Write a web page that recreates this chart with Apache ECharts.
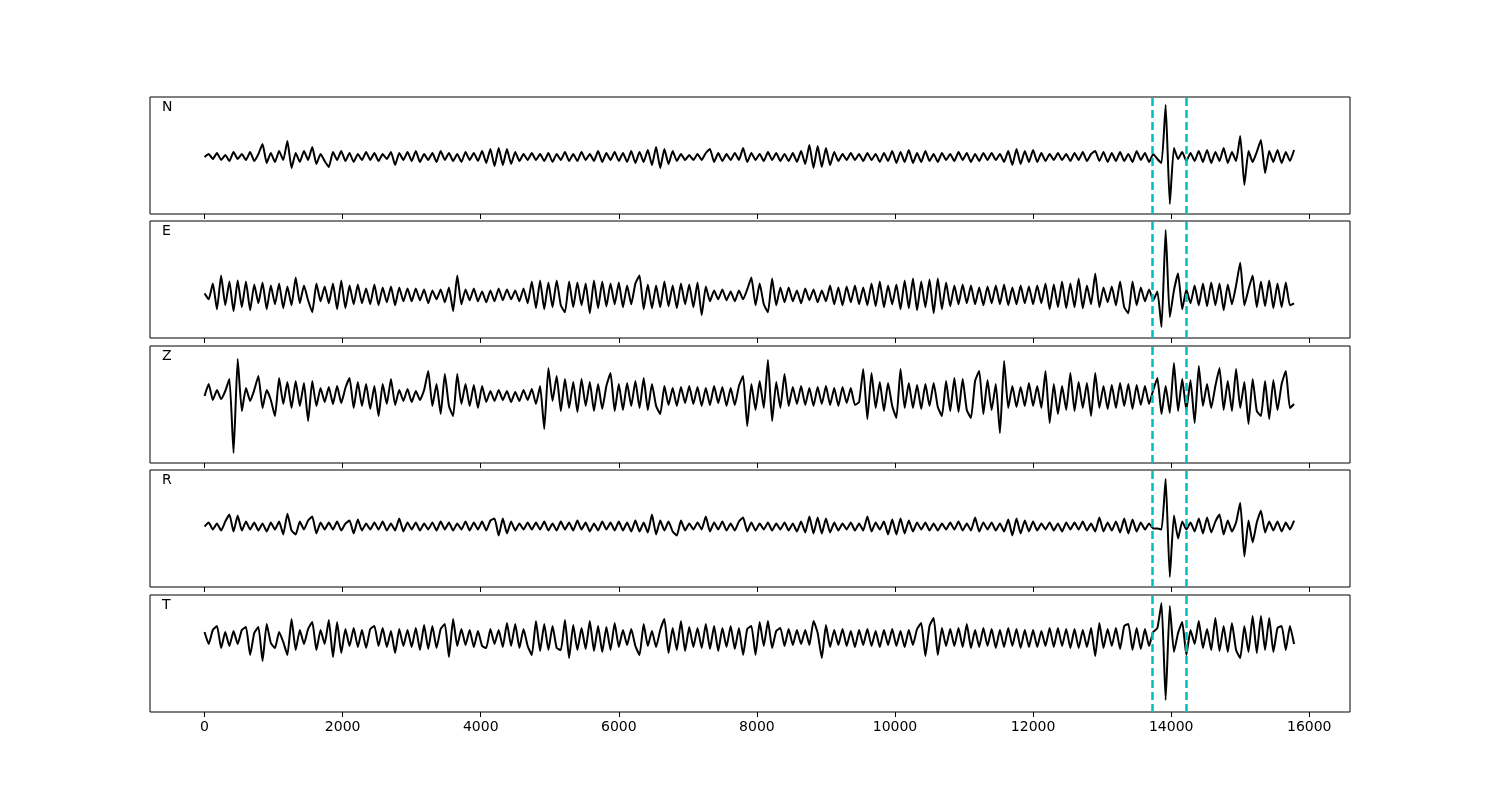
<!DOCTYPE html>
<html><head><meta charset="utf-8">
<script src="https://cdn.jsdelivr.net/npm/echarts@6/dist/echarts.min.js"></script>
<style>html,body{margin:0;padding:0;background:#fff}#c{width:1500px;height:800px}</style>
</head><body><div id="c"></div>
<script>
const channels = ['N', 'E', 'Z', 'R', 'T'];
const sampleStep = 60;               // time between stored samples
const pickTimes = [13720, 14225];    // dashed cyan markers
const xTicks = [0, 2000, 4000, 6000, 8000, 10000, 12000, 14000, 16000];
const xMin = -790, xMax = 16590;

const traceN = [
 0,3,-2,4,-3,2,-4,5,-2,3,
 -3,5,-4,3,13,-6,4,-5,6,-3,
 16,-11,4,-5,6,-3,10,-7,3,-4,
 -10,5,-3,6,-4,4,-5,3,-3,5,
 -3,4,-4,3,-2,5,-8,4,-3,5,
 -4,6,-5,3,-3,4,-5,6,-3,4,
 -4,3,-5,5,-3,4,-4,6,-6,8,
 -9,9,-8,8,-7,5,-4,3,-3,4,
 -3,3,-4,4,-5,3,-3,5,-4,3,
 -4,5,-3,3,-4,6,-5,4,-3,5,
 -4,4,-5,6,-6,5,-5,7,-8,10,
 -11,8,-7,6,-4,3,-3,2,-3,3,
 -3,4,8,-5,4,-4,3,-3,4,-3,
 9,-5,4,-3,3,-4,5,-3,4,-4,
 3,-4,4,-5,6,-7,12,-11,11,-10,
 9,-8,5,-4,3,-3,4,-3,3,-4,
 4,-3,3,-5,4,-4,6,-6,5,-5,
 7,-6,4,-5,6,-4,3,-5,4,-3,
 3,-4,5,-3,4,-5,3,-4,4,-3,
 4,-3,3,-5,6,-8,8,-7,6,-5,
 7,-5,4,-4,3,-3,4,-3,3,-4,
 4,-3,5,-4,3,6,-4,5,-5,4,
 -4,5,-4,3,-5,6,-3,4,-5,3,
 -2,-6,52,-47,9,-2,5,-4,4,-4,
 6,-5,7,-6,5,-4,9,-6,5,-4,
 21,-28,6,-5,5,17,-16,6,-5,7,
 -6,5,-4,7
];
const traceE = [
 2,-4,12,-14,20,-10,14,-16,15,-12,
 14,-15,11,-8,13,-14,10,-9,12,-13,
 9,-10,18,-8,10,-5,-17,12,-6,9,
 -8,12,-14,15,-13,10,-9,11,-8,7,
 -9,11,-10,8,-7,9,-10,8,-6,7,
 -6,7,-5,6,-8,5,-4,6,-7,8,
 -16,20,-9,6,-5,7,-6,4,-7,5,
 -6,7,-5,6,-4,5,-6,7,-8,14,
 -13,15,-14,13,-12,15,-10,-17,14,-12,
 13,-10,12,-18,15,-13,14,-11,12,-9,
 13,-12,10,-9,12,20,-14,11,-13,10,
 -12,14,-11,10,-13,12,-9,11,-12,13,
 -20,9,-6,5,-4,6,-5,4,-6,5,
 -4,6,18,-10,12,-9,-17,17,-10,8,
 -7,8,-6,5,-8,7,-5,6,-7,5,
 -6,10,-9,8,-10,9,-7,10,-9,8,
 -10,12,-11,14,-12,10,-9,11,-14,15,
 -13,17,-15,14,-12,16,-18,17,-14,13,
 -11,10,-9,11,-8,10,-9,8,-10,9,
 -8,10,-9,11,-10,8,-9,10,-8,9,
 -9,10,-8,12,-14,11,-12,14,-13,12,
 -12,17,-13,10,-9,22,-12,8,-7,9,
 -10,14,-12,-18,14,-10,8,-6,6,-5,
 4,-32,66,-22,5,22,-14,6,-8,10,
 -10,12,-11,13,-10,12,-15,11,-9,10,
 33,-10,6,20,-12,14,-11,15,-13,12,
 -12,13,-10,-8
];
const traceZ = [
 0,12,-4,6,-3,5,17,-57,37,-15,
 8,-5,6,20,-12,6,-4,-20,18,-8,
 14,-12,15,-10,13,-25,15,-10,8,-6,
 9,-8,10,-7,8,18,-12,14,-10,12,
 -13,10,-20,12,-8,17,-9,6,-5,7,
 -6,5,-4,6,25,-10,12,-18,22,-10,
 -20,22,-8,12,-10,11,-12,10,-6,5,
 -5,6,-4,5,-6,4,-5,6,-4,7,
 -8,10,-33,28,-5,20,-15,17,-12,14,
 -16,17,-10,14,-15,12,-13,10,23,-15,
 12,-14,13,-10,15,-12,18,-14,12,-10,
 -18,10,-9,8,-10,9,-7,10,-8,9,
 -10,8,-9,10,-7,9,-10,8,-9,10,
 20,-30,12,-14,15,-12,36,-25,14,-12,
 22,-10,9,-8,10,-9,8,-10,9,-8,
 10,-9,8,-10,9,-7,8,-9,-6,27,
 -23,23,-12,14,-15,13,-10,-22,27,-12,
 13,-12,11,-13,12,-10,13,-11,-20,15,
 -15,18,-16,17,-14,-22,15,25,-18,16,
 -14,12,-37,35,-12,10,-11,9,-10,13,
 -10,10,-12,25,-27,12,-18,10,-14,23,
 -15,14,-12,13,-20,23,-12,10,-13,11,
 -12,13,-10,12,-13,11,-9,10,-8,6,
 18,-18,10,-17,33,-15,17,-14,16,-27,
 30,-10,12,-12,10,28,-14,15,-15,27,
 -12,14,-28,17,-15,-20,15,-23,16,-14,
 12,25,-12,-8
];
const traceR = [
 0,4,-3,3,-4,5,12,-5,11,-4,
 5,-3,4,-4,3,-5,4,-3,5,-8,
 13,-4,-8,5,-3,6,10,-7,4,-3,
 4,-3,5,-4,3,6,-7,7,-4,3,
 -3,4,-3,5,-4,3,-4,8,-5,4,
 -3,4,-4,3,-3,4,-4,5,-3,4,
 -4,3,-3,5,-4,4,-3,5,-4,6,
 8,-9,8,-7,5,-4,3,-3,4,-3,
 4,-3,5,-4,3,-4,5,-3,4,-4,
 6,-3,4,-5,3,-4,5,-3,4,-4,
 5,-4,4,-5,6,-5,4,-6,12,-8,
 6,-4,5,-5,-9,6,-4,3,-3,4,
 -3,10,-5,4,-3,5,-4,3,-4,5,
 9,-5,4,-4,3,-3,4,-4,3,-3,
 4,-4,3,-5,5,-6,10,-7,9,-7,
 8,-6,4,-4,3,-3,4,-4,3,-4,
 10,-5,4,-3,5,-8,7,-8,8,-7,
 6,-5,4,-3,4,-4,3,-4,3,-3,
 4,-3,5,-4,3,-4,9,-5,4,-3,
 4,-4,3,-5,7,-9,8,-7,6,-5,
 5,-4,3,-3,4,-4,3,-5,4,-3,
 4,-3,5,-4,3,-5,9,-5,4,-4,
 5,-6,8,-7,7,-5,4,-3,3,-2,
 -2,-3,48,-51,11,-12,5,-3,4,-5,
 8,-7,9,-6,5,12,-8,6,-5,4,
 24,-30,6,-16,4,16,-6,5,-4,5,
 -5,4,-3,6
];
const traceT = [
 6,-6,8,12,-10,6,-8,7,-6,8,
 11,-17,5,11,-23,14,-5,-10,6,-4,
 -17,19,-12,8,-6,9,16,-12,8,-6,
 18,-19,16,-15,9,-8,10,-9,8,-10,
 9,12,-8,10,-9,7,-15,9,-8,8,
 -9,10,-12,13,-11,12,-10,9,14,-19,
 19,-8,9,-7,8,-9,7,-8,-10,9,
 -6,8,-9,15,-8,14,-10,9,-8,-17,
 17,-13,14,-12,12,-10,-12,18,-20,13,
 -12,10,-11,17,-13,12,-14,11,-12,15,
 -9,8,-7,9,-8,-17,14,-8,7,-9,
 8,19,-15,10,-12,17,-13,11,-9,10,
 -10,14,-11,12,-13,10,-9,12,-11,10,
 -17,9,12,-17,16,-8,17,-10,7,10,
 -8,9,-7,8,-6,8,-7,17,5,-20,
 13,-9,8,-7,9,-8,7,-9,8,-7,
 9,-8,7,-9,8,-7,9,-8,7,-9,
 8,-7,9,15,-18,12,20,-17,10,-8,
 9,-8,10,-9,14,-10,8,-9,10,-8,
 9,-10,8,-9,10,-8,9,-10,8,-9,
 8,-9,7,-8,10,-9,10,-8,9,-10,
 9,-10,8,-9,10,-18,15,-10,9,-8,
 10,-11,12,14,-12,10,-11,9,-8,6,
 10,35,-62,32,-14,5,16,-17,8,-6,
 17,-10,9,-12,20,-13,12,-14,15,-12,
 -20,12,-14,22,-15,22,-12,20,-14,10,
 12,-12,12,-6
];
const traces = [traceN, traceE, traceZ, traceR, traceT];
// vertical extent of each panel (amplitude units, zero at the trace baseline)
const yMins = [-57, -43, -67, -61, -74];
const yMaxs = [60, 75, 50, 57, 43];

const gridTops = [97, 221, 346, 470, 595];
const gridH = 117;
const font = 'DejaVu Sans';

const grids = [], xAxes = [], yAxes = [], series = [], titles = [];
channels.forEach((ch, k) => {
  grids.push({ left: 150, width: 1200, top: gridTops[k], height: gridH,
    show: true, borderColor: '#000', borderWidth: 1, backgroundColor: 'transparent' });
  xAxes.push({ type: 'value', gridIndex: k, min: xMin, max: xMax, position: 'bottom',
    axisLine: { show: false, onZero: false },
    axisTick: { show: true, length: 5, inside: false, customValues: xTicks, lineStyle: { color: '#000', width: 1 } },
    axisLabel: { show: k === channels.length - 1, customValues: xTicks, color: '#000',
      fontSize: 14, fontFamily: font, margin: 8, formatter: v => String(v) },
    splitLine: { show: false } });
  yAxes.push({ type: 'value', gridIndex: k, min: yMins[k], max: yMaxs[k], show: false });
  series.push({
    type: 'line', xAxisIndex: k, yAxisIndex: k, symbol: 'none', smooth: 0.15,
    lineStyle: { color: '#000', width: 2 },
    data: traces[k].map((v, i) => [i * sampleStep, v]),
    markLine: { silent: true, symbol: ['none', 'none'], label: { show: false },
      lineStyle: { color: '#00bfbf', type: [8, 4], width: 2.5 },
      data: pickTimes.map(t => ({ xAxis: t })) }
  });
  titles.push({ text: ch, left: 162, top: gridTops[k] + 3, padding: 0,
    textStyle: { fontSize: 14, fontWeight: 'normal', color: '#000', fontFamily: font } });
});

const chart = echarts.init(document.getElementById('c'), null, { renderer: 'canvas' });
chart.setOption({ animation: false, backgroundColor: '#fff', title: titles,
  grid: grids, xAxis: xAxes, yAxis: yAxes, series: series });
</script></body></html>
